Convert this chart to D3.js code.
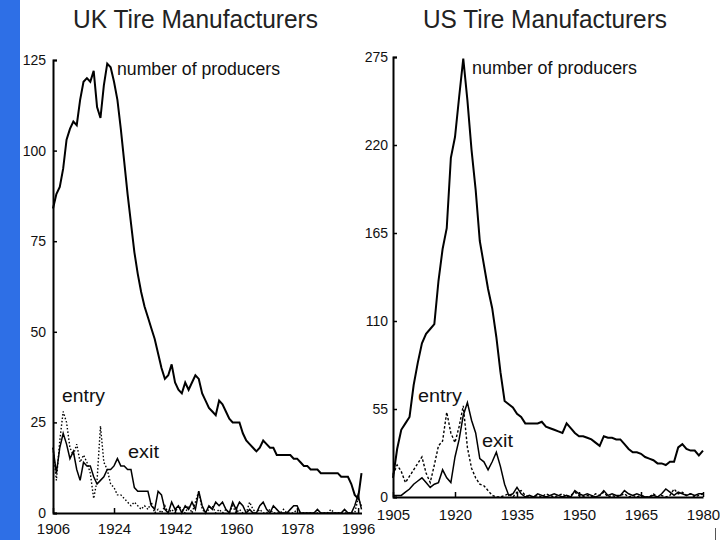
<!DOCTYPE html>
<html>
<head>
<meta charset="utf-8">
<script src="https://cdn.jsdelivr.net/npm/d3@7"></script>
<style>
  body { margin: 0; background: #fff; }
  svg { display: block; font-family: "Liberation Sans", Arial, sans-serif; }
</style>
</head>
<body>
<div id="chart"></div>
<script>
// UK data, 1906-1997
var ukStart = 1906;
var ukProducers = [84, 88, 90, 95, 103, 106, 108, 107, 114, 119, 120, 119, 122, 112, 109, 118, 124, 123, 119, 114,
    106, 97, 88, 80, 72, 66, 61, 57, 54, 51, 48, 44, 40, 37, 38, 41, 36, 34, 33, 36,
    34, 36, 38, 37, 33, 31, 29, 28, 27, 31, 30, 28, 26, 25, 25, 25, 22, 20, 19, 18,
    17, 18, 20, 19, 18, 18, 16, 16, 16, 16, 16, 15, 15, 14, 13, 13, 12, 12, 12, 11,
    11, 11, 11, 11, 11, 10, 10, 10, 8, 5, 4, 11];
var ukEntry = [18, 9, 20, 28, 25, 18, 16, 19, 14, 16, 14, 11, 4, 9, 24, 14, 12, 8, 7, 5,
    5, 4, 3, 2, 3, 2, 1, 2, 1, 3, 0, 1, 0, 2, 0, 1, 0, 2, 1, 0,
    2, 0, 3, 6, 1, 0, 1, 2, 0, 1, 0, 1, 0, 2, 0, 1, 0, 0, 3, 1,
    0, 1, 0, 0, 1, 0, 0, 0, 1, 0, 0, 0, 1, 0, 0, 0, 0, 0, 0, 0,
    0, 0, 1, 0, 0, 0, 0, 0, 0, 0, 4, 2];
var ukExit = [18, 11, 18, 22, 19, 15, 17, 12, 9, 14, 13, 13, 10, 8, 9, 10, 12, 12, 13, 15,
    13, 13, 12, 12, 7, 6, 6, 6, 6, 2, 1, 6, 5, 1, 0, 3, 1, 2, 0, 2,
    1, 3, 1, 6, 2, 0, 2, 1, 3, 2, 3, 1, 0, 3, 1, 3, 2, 0, 1, 0,
    0, 2, 3, 1, 0, 2, 1, 0, 0, 0, 1, 2, 2, 0, 0, 0, 0, 0, 1, 0,
    0, 0, 0, 0, 0, 0, 1, 0, 0, 2, 5, 1];
var ukYTicks = [0, 25, 50, 75, 100, 125];
var ukXTicks = [1906, 1924, 1942, 1960, 1978, 1996];

// US data, 1905-1980
var usStart = 1905;
var usProducers = [12, 30, 42, 46, 50, 70, 84, 96, 102, 105, 108, 135, 155, 168, 212, 225, 250, 274, 248, 217,
    192, 160, 145, 130, 118, 100, 78, 60, 58, 56, 52, 50, 46, 46, 46, 46, 47, 44, 43, 42,
    41, 40, 46, 43, 40, 38, 38, 37, 36, 34, 32, 38, 37, 37, 36, 36, 33, 30, 28, 28,
    27, 25, 24, 23, 21, 21, 20, 22, 22, 31, 33, 30, 29, 29, 26, 29];
var usEntry = [14, 20, 16, 9, 13, 17, 21, 25, 15, 9, 20, 32, 35, 53, 40, 34, 44, 57, 31, 18,
    12, 8, 7, 4, 1, 0, 0, 1, 2, 0, 3, 4, 1, 0, 0, 1, 0, 2, 1, 0,
    1, 2, 0, 1, 3, 1, 0, 1, 0, 2, 1, 3, 0, 1, 0, 1, 2, 0, 1, 0,
    1, 0, 0, 2, 0, 1, 0, 1, 5, 2, 3, 1, 2, 0, 1, 2];
var usExit = [1, 1, 1, 3, 5, 8, 10, 12, 9, 6, 8, 9, 17, 12, 9, 25, 36, 51, 59, 48,
    40, 24, 22, 17, 22, 28, 19, 8, 1, 2, 6, 2, 0, 1, 0, 2, 1, 0, 1, 2,
    1, 0, 1, 0, 4, 2, 1, 2, 1, 0, 1, 4, 1, 2, 1, 1, 4, 2, 1, 2,
    1, 0, 0, 1, 0, 2, 5, 3, 1, 3, 2, 1, 2, 1, 2, 2];
var usYTicks = [0, 55, 110, 165, 220, 275];
var usXTicks = [1905, 1920, 1935, 1950, 1965, 1980];

var w = 720, h = 540;

var svg = d3.select("#chart").append("svg")
    .attr("width", w)
    .attr("height", h);

svg.append("rect").attr("width", w).attr("height", h).attr("fill", "#fff");
// blue slide strip on the left
svg.append("rect").attr("x", 0).attr("y", 0).attr("width", 20).attr("height", h).attr("fill", "#2e6fe6");
svg.append("line").attr("x1", 715.5).attr("x2", 715.5).attr("y1", 528).attr("y2", 540)
    .attr("stroke", "#555").attr("stroke-width", 1);

function drawPanel(p) {
    var x = d3.scaleLinear().domain(p.xDomain).range(p.xRange);
    var y = d3.scaleLinear().domain(p.yDomain).range(p.yRange);
    var g = svg.append("g");

    g.append("text")
        .attr("x", p.titleX).attr("y", 28)
        .attr("font-size", 26)
        .attr("fill", "#222")
        .attr("textLength", p.titleW).attr("lengthAdjust", "spacingAndGlyphs")
        .text(p.title);

    var yAxis = g.append("g")
        .attr("transform", "translate(" + p.xRange[0] + ",0)")
        .call(d3.axisLeft(y).tickValues(p.yTicks).tickSize(-4).tickPadding(p.yPad).tickSizeOuter(-4));
    var xAxis = g.append("g")
        .attr("transform", "translate(0," + p.yRange[0] + ")")
        .call(d3.axisBottom(x).tickValues(p.xTicks).tickSize(-5).tickPadding(p.xPad).tickSizeOuter(0).tickFormat(d3.format("d")));
    [yAxis, xAxis].forEach(function (a) {
        a.selectAll("path").attr("stroke", "#000").attr("stroke-width", 2);
        a.selectAll("line").attr("stroke", "#000").attr("stroke-width", 1.5);
        a.selectAll("text").attr("fill", "#111").attr("font-family", "Liberation Sans, Arial, sans-serif");
    });
    yAxis.selectAll("text").attr("font-size", 14);
    xAxis.selectAll("text").attr("font-size", 15);

    var line = d3.line()
        .x(function (d, i) { return x(p.start + i); })
        .y(function (d) { return y(d); });

    g.append("path").datum(p.entry).attr("d", line)
        .attr("fill", "none").attr("stroke", "#000").attr("stroke-width", 1.4)
        .attr("stroke-dasharray", p.entryDash);
    g.append("path").datum(p.exit).attr("d", line)
        .attr("fill", "none").attr("stroke", "#000").attr("stroke-width", 1.5);
    g.append("path").datum(p.producers).attr("d", line)
        .attr("fill", "none").attr("stroke", "#000").attr("stroke-width", 2);

    p.labels.forEach(function (l) {
        g.append("text")
            .attr("x", l.x).attr("y", l.y)
            .attr("font-size", 18)
            .attr("fill", "#111")
            .attr("textLength", l.w).attr("lengthAdjust", "spacingAndGlyphs")
            .text(l.text);
    });
}

drawPanel({
    title: "UK Tire Manufacturers", titleX: 73, titleW: 245,
    start: ukStart, producers: ukProducers, entry: ukEntry, exit: ukExit,
    xDomain: [1906, 1997], xRange: [53, 361.5],
    yDomain: [0, 125], yRange: [513, 60],
    yTicks: ukYTicks, xTicks: ukXTicks, yPad: 7, xPad: 10,
    entryDash: "1.5,2",
    labels: [
        { text: "number of producers", x: 117, y: 75, w: 163 },
        { text: "entry", x: 62, y: 402, w: 43 },
        { text: "exit", x: 128, y: 458, w: 31 }
    ]
});

drawPanel({
    title: "US Tire Manufacturers", titleX: 423, titleW: 244,
    start: usStart, producers: usProducers, entry: usEntry, exit: usExit,
    xDomain: [1905, 1980], xRange: [393, 703],
    yDomain: [0, 275], yRange: [497, 57],
    yTicks: usYTicks, xTicks: usXTicks, yPad: 5, xPad: 12,
    entryDash: "2.5,2",
    labels: [
        { text: "number of producers", x: 472, y: 74, w: 165 },
        { text: "entry", x: 418, y: 402, w: 44 },
        { text: "exit", x: 482, y: 447, w: 31 }
    ]
});
</script>
</body>
</html>
